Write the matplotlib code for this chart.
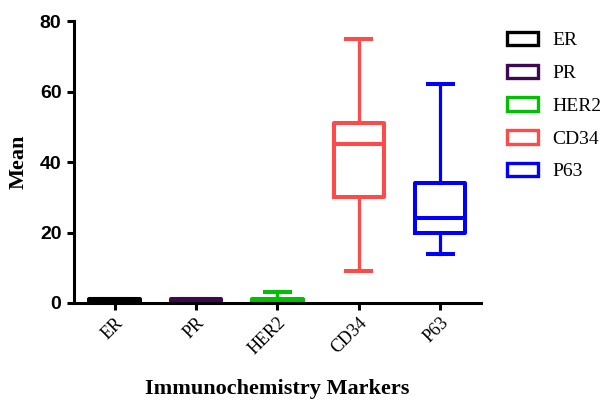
import matplotlib
matplotlib.use("Agg")
import matplotlib.pyplot as plt
from matplotlib.patches import Patch

markers = ["ER", "PR", "HER2", "CD34", "P63"]
colors = ["#000000", "#3d0a4f", "#00c000", "#ff4a4a", "#0000ff"]
whis_lo = [0, 0, 0, 9, 14]
q1 = [0, 0, 0, 30, 20]
med = [1, 1, 1, 45, 24]
q3 = [1, 1, 1, 51, 34]
whis_hi = [1, 1, 3, 75, 62]
yticks = [0, 20, 40, 60, 80]

fig = plt.figure(figsize=(6.08, 4.05), dpi=100)
ax = fig.add_axes([0.1217, 0.2519, 0.791 - 0.1217, 0.948 - 0.2519])

for i, m in enumerate(markers):
    st = [dict(label=m, whislo=whis_lo[i], q1=q1[i], med=med[i], q3=q3[i], whishi=whis_hi[i], fliers=[])]
    c = colors[i]
    ax.bxp(st, positions=[i], widths=0.62, showfliers=False, patch_artist=False,
           boxprops=dict(color=c, linewidth=2.9),
           medianprops=dict(color=c, linewidth=2.9),
           whiskerprops=dict(color=c, linewidth=2.3),
           capprops=dict(color=c, linewidth=2.9),
           capwidths=0.31, manage_ticks=False)

ax.set_xlim(-0.5, 4.5)
ax.set_ylim(0, 80)
ax.set_xticks(range(len(markers)))
ax.set_xticklabels(markers, rotation=45, ha="right", rotation_mode="anchor",
                   family=["Liberation Serif"], fontsize=13)
ax.set_yticks(yticks)
ax.set_yticklabels([str(v) for v in yticks], family=["Liberation Sans Narrow", "Liberation Sans"],
                   fontweight="bold", fontsize=14)
for s in ["top", "right"]:
    ax.spines[s].set_visible(False)
for s in ["left", "bottom"]:
    ax.spines[s].set_linewidth(2.2)
ax.tick_params(axis="both", width=2.2, length=5, direction="out")
ax.tick_params(axis="x", pad=3)
ax.tick_params(axis="y", pad=4)

ax.set_ylabel("Mean", family=["Liberation Serif"], fontweight="bold", fontsize=16, labelpad=8)
ax.set_xlabel("Immunochemistry Markers", family=["Liberation Serif"], fontweight="bold", fontsize=16, labelpad=15)

handles = [Patch(facecolor="white", edgecolor=c, linewidth=2.4, label=m) for m, c in zip(markers, colors)]
fig.legend(handles=handles, loc="upper left", bbox_to_anchor=(0.808, 0.96), frameon=False,
           prop=dict(family="Liberation Serif", size=14), labelspacing=0.78,
           handlelength=1.6, handleheight=0.7, handletextpad=0.75, borderpad=0.3)

fig.savefig("out.png", dpi=100)
